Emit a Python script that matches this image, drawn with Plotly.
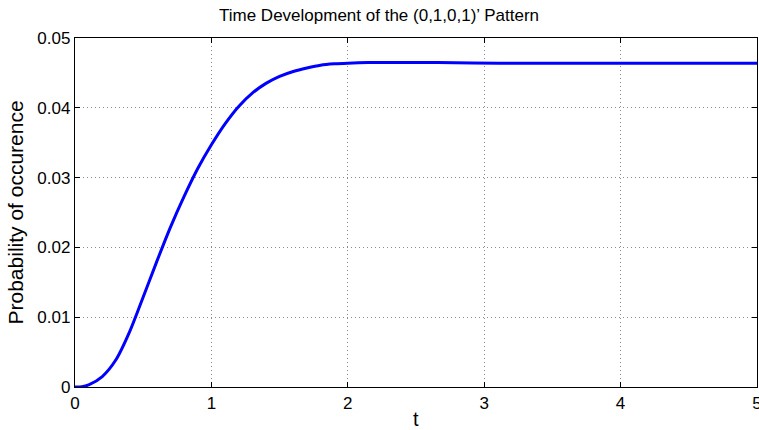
import plotly.graph_objects as go

t_values = [0, 0.05, 0.1, 0.2, 0.3, 0.4, 0.5, 0.6, 0.7, 0.8, 0.9, 1.0, 1.1, 1.2, 1.3,
            1.4, 1.5, 1.6, 1.7, 1.8, 1.9, 2.0, 2.15, 2.66, 3.11, 4.0, 5.0]
prob_values = [0, 0.00003, 0.0003, 0.0015, 0.0039, 0.0079, 0.0129, 0.0180, 0.0229,
               0.0273, 0.0313, 0.0347, 0.0377, 0.0402, 0.0421, 0.0435, 0.0445, 0.0452,
               0.0457, 0.0461, 0.0463, 0.0464, 0.04648, 0.04648, 0.0464, 0.0464, 0.0464]

x_ticks = [0, 1, 2, 3, 4, 5]
y_ticks = [0, 0.01, 0.02, 0.03, 0.04, 0.05]
y_tick_labels = ["0", "0.01", "0.02", "0.03", "0.04", "0.05"]

title_text = "Time Development of the (0,1,0,1)’ Pattern"
x_label = "t"
y_label = "Probability of occurence"

FONT = "Liberation Sans, Arial, Helvetica, sans-serif"

fig = go.Figure()
fig.add_trace(go.Scatter(
    x=t_values, y=prob_values, mode="lines",
    line=dict(color="rgb(0,0,255)", width=3, shape="spline", smoothing=0.8),
    showlegend=False, hoverinfo="skip", cliponaxis=True,
))

axis_common = dict(
    showline=True, linecolor="black", linewidth=1.2, mirror="allticks",
    ticks="inside", ticklen=5, tickcolor="black", tickwidth=1,
    showgrid=True, gridcolor="rgba(0,0,0,0.45)", gridwidth=1, griddash="1px,3px",
    zeroline=False, automargin=False, ticklabeloverflow="allow",
    tickfont=dict(family=FONT, size=17, color="black"),
)

fig.update_xaxes(range=[0, 5], tickvals=x_ticks, ticktext=[str(v) for v in x_ticks],
                 **axis_common)
fig.update_yaxes(range=[0, 0.05], tickvals=y_ticks, ticktext=y_tick_labels,
                 **axis_common)

fig.update_layout(
    width=759, height=430,
    margin=dict(l=75, r=2, t=38, b=43, pad=0),
    paper_bgcolor="white", plot_bgcolor="white",
    font=dict(family=FONT, color="black"),
    annotations=[
        dict(text=title_text, x=0.4457, xref="paper", y=1.0, yref="paper",
             xanchor="center", yanchor="middle", yshift=23, showarrow=False,
             font=dict(family=FONT, size=17, color="black")),
        dict(text=x_label, x=0.5, xref="paper", y=0, yref="paper",
             xanchor="center", yanchor="middle", yshift=-32, showarrow=False,
             font=dict(family=FONT, size=20, color="black")),
        dict(text=y_label, x=0, xref="paper", y=0.5, yref="paper",
             xanchor="center", yanchor="middle", xshift=-60, textangle=-90,
             showarrow=False, font=dict(family=FONT, size=21, color="black")),
    ],
)

fig.write_html(
    "out.html",
    config={"displayModeBar": False, "staticPlot": True},
    post_script="document.body.style.margin='0';document.body.style.overflow='hidden';",
)
